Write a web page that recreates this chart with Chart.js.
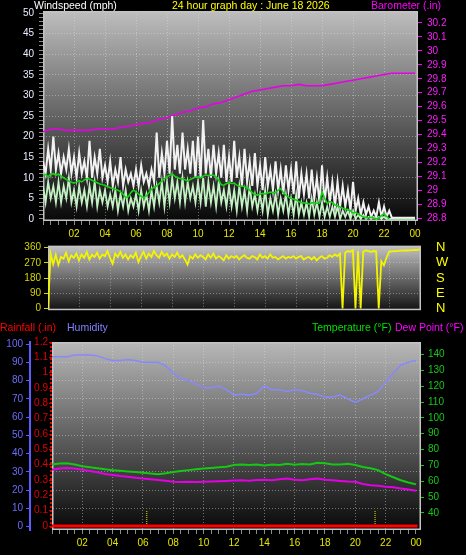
<!DOCTYPE html>
<html>
<head>
<meta charset="utf-8">
<script src="https://cdn.jsdelivr.net/npm/chart.js@4.4.1/dist/chart.umd.min.js"></script>
<style>
  html, body { margin: 0; padding: 0; background: #000; }
  #wrap { position: relative; width: 466px; height: 555px; overflow: hidden; background: #000;
          font-family: 'Liberation Sans', Arial, sans-serif; }
  canvas { position: absolute; left: 0; }
  .lbl { position: absolute; font-size: 10.5px; line-height: 12px; white-space: nowrap; }
</style>
</head>
<body>
<div id="wrap">
  <canvas id="windChart" width="466" height="244" style="top:0px"></canvas>
  <canvas id="dirChart" width="466" height="84" style="top:236px"></canvas>
  <canvas id="climateChart" width="466" height="223" style="top:332px"></canvas>

  <div class="lbl" style="left:34px;top:-1px;color:#ffffff">Windspeed (mph)</div>
  <div class="lbl" style="left:172px;top:-1px;color:#ffff00">24 hour graph day : June 18 2026</div>
  <div class="lbl" style="left:371px;top:-1px;color:#ff00ff">Barometer (.in)</div>

  <div class="lbl" style="left:0px;top:321px;color:#ff0000">Rainfall (.in)</div>
  <div class="lbl" style="left:67px;top:321px;color:#8080ff">Humidity</div>
  <div class="lbl" style="left:312px;top:321px;color:#00e000">Temperature (°F)</div>
  <div class="lbl" style="left:395px;top:321px;color:#ff00ff">Dew Point (°F)</div>
</div>
<script>
'use strict';

// ---- data ----
// 10 minute samples, 00:00 .. 24:00 (one row per hour)
const gustMph = [
  14, 11, 17, 12, 20, 12,
  16, 11, 15, 12, 17, 11,
  15, 10, 16, 11, 14, 10,
  19, 10, 15, 11, 17, 10,
  13, 9, 14, 8, 12, 9,
  15, 8, 12, 9, 11, 8,
  12, 8, 13, 9, 11, 8,
  12, 9, 21, 10, 16, 11,
  19, 11, 25, 12, 18, 11,
  21, 12, 17, 11, 19, 10,
  20, 10, 24, 11, 17, 10,
  18, 11, 16, 10, 18, 9,
  15, 9, 19, 10, 15, 8,
  17, 9, 14, 8, 16, 8,
  13, 7, 15, 8, 12, 7,
  14, 7, 12, 6, 13, 7,
  12, 6, 14, 5, 11, 6,
  11, 5, 12, 5, 10, 4,
  13, 4, 10, 4, 9, 3,
  9, 3, 8, 3, 7, 2,
  9, 2, 5, 1, 4, 1,
  3, 0.5, 2, 0.5, 4, 0.5,
  3, 0.5, 2, 0.3, 0.3, 0.3,
  0.3, 0.3, 0.3, 0.3, 0.3, 0.3,
  0.3
];
const windMph = [
  8, 4, 9, 5, 8, 4,
  9, 4, 8, 5, 10, 4,
  7, 3, 8, 4, 7, 3,
  8, 4, 9, 3, 7, 4,
  7, 3, 6, 3, 7, 2,
  6, 3, 7, 2, 5, 3,
  6, 2, 7, 3, 6, 2,
  7, 3, 8, 4, 9, 3,
  9, 4, 10, 5, 9, 4,
  10, 4, 9, 5, 8, 4,
  9, 4, 10, 3, 9, 4,
  8, 3, 9, 4, 7, 3,
  8, 3, 7, 2, 8, 3,
  7, 2, 8, 3, 6, 2,
  6, 2, 7, 1, 5, 2,
  6, 1, 5, 2, 6, 1,
  5, 1, 6, 1, 4, 1,
  4, 0.5, 5, 1, 4, 0.5,
  4, 0.5, 3, 0.5, 3, 0.5,
  3, 0, 2, 0.5, 2, 0,
  2, 0, 1, 0, 1, 0,
  0.5, 0, 0.5, 0, 0.5, 0,
  0.5, 0, 0, 0, 0, 0,
  0, 0, 0, 0, 0, 0,
  0
];
const avgMph = [
  10.5, 10.8, 10.2, 10.9, 11.0, 10.6,
  10.9, 10.4, 10.0, 9.6, 9.2, 8.9,
  8.7, 9.0, 9.3, 9.0, 9.5, 9.8,
  9.7, 9.4, 9.1, 8.8, 8.5, 8.3,
  8.2, 7.9, 7.6, 7.4, 7.2, 7.0,
  6.6, 6.0, 5.2, 5.4, 6.4, 7.0,
  6.6, 6.0, 5.5, 5.2, 5.6, 6.4,
  7.2, 7.8, 8.0, 8.6, 9.2, 9.8,
  10.2, 10.6, 10.9, 10.4, 10.0, 9.8,
  9.7, 9.5, 9.2, 9.6, 9.9, 10.2,
  10.2, 10.0, 10.4, 10.7, 10.5, 10.6,
  10.6, 10.2, 9.4, 8.3, 8.2, 8.6,
  8.8, 8.6, 8.7, 8.2, 7.9, 8.0,
  7.8, 7.6, 7.0, 6.4, 5.9, 5.8,
  6.0, 6.2, 6.1, 6.3, 6.5, 6.4,
  6.4, 7.0, 7.3, 6.4, 5.8, 5.3,
  5.0, 4.8, 4.6, 4.2, 4.0, 3.9,
  3.8, 3.6, 3.9, 4.0, 3.8, 3.8,
  6.6, 5.0, 3.8, 4.2, 4.0, 3.4,
  3.2, 2.9, 2.6, 2.4, 2.2, 2.0,
  1.4, 1.6, 1.2, 0.8, 0.5, 0.3,
  0.3, 0.4, 0.2, 0.0, 0.3, 0.8,
  1.3, 0.6, 0.0, null, null, null,
  null, null, null, null, null, null,
  null
];
const dirDeg = [
  0, 325, 262, 318, 258, 305,
  295, 330, 280, 315, 300, 325,
  285, 320, 300, 335, 290, 318,
  305, 330, 295, 320, 310, 340,
  300, 265, 325, 305, 335, 300,
  320, 290, 315, 300, 330, 275,
  310, 335, 295, 325, 305, 340,
  315, 300, 335, 310, 325, 295,
  320, 305, 330, 300, 315, 290,
  260, 310, 295, 320, 300, 315,
  305, 290, 320, 300, 325, 295,
  310, 300, 285, 315, 295, 310,
  300, 310, 290, 305, 315, 300,
  295, 310, 305, 290, 320, 300,
  310, 295, 320, 300, 305, 290,
  300, 310, 295, 305, 300, 310,
  295, 305, 310, 290, 300, 305,
  290, 305, 285, 300, 310, 295,
  300, 315, 305, 320, 310, 325,
  0, 330, 340, 335, 345, 0,
  340, 0, 335, 345, 340, 335,
  340, 338, 0, 280, 255, 300,
  335, 338, 340, 340, 342, 342,
  343, 343, 344, 345, 346, 347,
  350
];

// half hourly samples, 00:00 .. 24:00
const baroIn = [
  29.42, 29.44, 29.44, 29.43, 29.43, 29.43, 29.43, 29.44, 29.44, 29.44,
  29.45, 29.46, 29.47, 29.48, 29.49, 29.51, 29.52, 29.54, 29.56, 29.57,
  29.59, 29.60, 29.62, 29.63, 29.65, 29.67, 29.69, 29.71, 29.72, 29.73,
  29.74, 29.75, 29.75, 29.76, 29.75, 29.75, 29.75, 29.76, 29.77, 29.78,
  29.79, 29.80, 29.81, 29.82, 29.83, 29.84, 29.84, 29.84, 29.84
];
const humidityPct = [
  93, 93, 93, 94, 94, 94, 93.5, 92, 91, 91,
  91.5, 91, 90, 90, 90, 88, 84, 81, 80, 78,
  76, 76, 77, 75, 72, 72.5, 72, 73, 77, 75,
  75, 74, 75, 74.5, 73, 72.5, 71, 71, 72, 70,
  68, 70, 72, 74, 79, 84, 88.5, 90, 91
];
const tempF = [
  70.6, 71.2, 71.4, 70.5, 69.4, 68.8, 68.2, 67.5, 67.0, 66.6,
  66.2, 65.8, 65.3, 64.8, 64.4, 65.0, 65.8, 66.4, 67.0, 67.6,
  68.0, 68.4, 68.8, 69.2, 70.2, 70.6, 70.3, 70.5, 70.0, 70.6,
  70.2, 71.0, 70.4, 70.8, 70.6, 71.7, 71.4, 70.5, 70.6, 71.0,
  70.2, 69.0, 68.2, 67.0, 64.5, 62.5, 60.6, 59.2, 58.0
];
const dewF = [
  67.3, 68.0, 68.3, 68.0, 67.3, 66.5, 65.6, 64.6, 64.0, 63.3,
  62.8, 62.2, 61.7, 61.3, 60.8, 60.3, 59.6, 59.5, 59.6, 59.5,
  59.6, 59.8, 60.0, 60.2, 60.4, 60.6, 60.3, 60.8, 61.0, 60.6,
  61.3, 61.7, 60.9, 60.6, 61.2, 61.7, 61.0, 60.6, 60.2, 59.8,
  59.6, 58.3, 57.5, 57.2, 56.5, 56.2, 55.4, 54.7, 54.0
];
const rainTimes = [0, 24.1];
const rainIn = [0, 0];
// sunrise / sunset markers (hours)
const sunMarks = [6.25, 21.3];

// ---- tick labels ----
const hourTickValues = [2, 4, 6, 8, 10, 12, 14, 16, 18, 20, 22, 24];
const hourLabels = ['02', '04', '06', '08', '10', '12', '14', '16', '18', '20', '22', '00'];
const windTicks = [0, 5, 10, 15, 20, 25, 30, 35, 40, 45, 50];
const baroTicks = [28.8, 28.9, 29, 29.1, 29.2, 29.3, 29.4, 29.5, 29.6, 29.7, 29.8, 29.9, 30, 30.1, 30.2];
const dirTicks = [0, 90, 180, 270, 360];
const compassLabels = ['N', 'E', 'S', 'W', 'N'];
const rainTicks = [0, 0.1, 0.2, 0.3, 0.4, 0.5, 0.6, 0.7, 0.8, 0.9, 1, 1.1, 1.2];
const humidityTicks = [0, 10, 20, 30, 40, 50, 60, 70, 80, 90, 100];
const tempTicks = [40, 50, 60, 70, 80, 90, 100, 110, 120, 130, 140];

const FONT = "'Liberation Sans', Arial, sans-serif";
const gridColor = 'rgba(225,225,225,0.45)';

Chart.defaults.font.family = FONT;
Chart.defaults.font.size = 10;
Chart.defaults.animation = false;
Chart.defaults.responsive = false;
Chart.defaults.events = [];
Chart.defaults.plugins.legend.display = false;
Chart.defaults.plugins.tooltip.enabled = false;
Chart.defaults.elements.point.radius = 0;
Chart.defaults.elements.line.tension = 0;

// turn a list of regular samples into x/y points (x in hours)
function series(values, step) {
  return values.map((v, i) => ({ x: i * step, y: v }));
}

// gradient panel + frame behind the lines
const panelBg = {
  id: 'panelBg',
  beforeDraw(chart, args, opts) {
    const { ctx, chartArea: a } = chart;
    const g = ctx.createLinearGradient(0, a.top, 0, a.bottom);
    g.addColorStop(0, opts.top);
    g.addColorStop(1, opts.bottom);
    ctx.save();
    ctx.fillStyle = g;
    ctx.fillRect(a.left, a.top, a.width, a.height);
    ctx.restore();
  },
  beforeDatasetsDraw(chart, args, opts) {
    const { ctx, chartArea: a } = chart;
    ctx.save();
    ctx.strokeStyle = '#c4c4c4';
    ctx.lineWidth = 1.5;
    ctx.strokeRect(a.left + 0.75, a.top + 0.75, a.width - 1.5, a.height - 1.5);
    if (opts.leftDash) {
      ctx.strokeStyle = opts.leftDash;
      ctx.lineWidth = 2;
      ctx.setLineDash([2, 2]);
      ctx.beginPath();
      ctx.moveTo(a.left - 1, a.top);
      ctx.lineTo(a.left - 1, a.bottom);
      ctx.stroke();
    }
    ctx.restore();
  }
};

// time axis shared by the three panels
function hourAxis(max, height, showLabels) {
  return {
    type: 'linear', min: 0, max: max,
    afterBuildTicks: s => {
      const t = [];
      for (let h = 0; h <= 24; h += 0.5) t.push({ value: h });
      s.ticks = t;
    },
    afterFit: s => { s.height = height; },
    border: { display: false, dash: [1, 2] },
    grid: {
      color: c => (c.tick && c.tick.value > 0 && c.tick.value < 24 && c.tick.value % 2 === 0) ? gridColor : 'transparent',
      drawTicks: showLabels,
      tickLength: 4,
      tickColor: '#8c8c8c'
    },
    ticks: {
      display: showLabels, autoSkip: false, maxRotation: 0, padding: 3,
      color: '#e6e600',
      callback: v => { const i = hourTickValues.indexOf(v); return i < 0 ? '' : hourLabels[i]; }
    }
  };
}

// ---- wind + barometer ----
new Chart(document.getElementById('windChart'), {
  type: 'line',
  data: {
    datasets: [
      { label: 'Average', data: series(avgMph, 1 / 6), yAxisID: 'wind', borderColor: '#12d212', borderWidth: 1.6, order: 0 },
      { label: 'Wind', data: series(windMph, 1 / 6), yAxisID: 'wind', borderColor: '#c4f2c4', borderWidth: 1.8, order: 1 },
      { label: 'Gust', data: series(gustMph, 1 / 6), yAxisID: 'wind', borderColor: '#f2f2f2', borderWidth: 2, order: 2 },
      { label: 'Barometer', data: series(baroIn, 0.5), yAxisID: 'baro', borderColor: '#e800e8', borderWidth: 1.6, order: 3 }
    ]
  },
  options: {
    layout: { padding: { top: 10 } },
    plugins: { panelBg: { top: '#bebebe', bottom: '#080808' } },
    scales: {
      x: hourAxis(24.19, 23, true),
      wind: {
        type: 'linear', position: 'left', min: -0.5, max: 50.5,
        afterBuildTicks: s => {
          const t = [];
          for (let v = 0; v <= 50; v++) t.push({ value: v });
          s.ticks = t;
        },
        afterFit: s => { s.width = 43; },
        border: { display: false, dash: [1, 2] },
        grid: {
          color: c => (c.tick && c.tick.value % 5 === 0 && c.tick.value > 0 && c.tick.value < 50) ? gridColor : 'transparent',
          tickLength: 4, tickColor: '#8c8c8c'
        },
        ticks: {
          autoSkip: false, padding: 5, color: '#e8eeff',
          callback: v => windTicks.includes(v) ? String(v) : ''
        }
      },
      baro: {
        type: 'linear', position: 'right', min: 28.78, max: 30.286,
        afterBuildTicks: s => { s.ticks = baroTicks.map(v => ({ value: v })); },
        afterFit: s => { s.width = 48; },
        border: { display: false },
        grid: { drawOnChartArea: false, tickLength: 4, tickColor: '#ff00ff' },
        ticks: { autoSkip: false, padding: 5, color: '#ff1cff', callback: v => String(v) }
      }
    }
  },
  plugins: [panelBg]
});

// ---- wind direction ----
new Chart(document.getElementById('dirChart'), {
  type: 'line',
  data: {
    datasets: [
      { label: 'Direction', data: series(dirDeg, 1 / 6), yAxisID: 'dir', borderColor: '#f4f400', borderWidth: 1.8 }
    ]
  },
  options: {
    layout: { padding: { top: 8 } },
    plugins: { panelBg: { top: '#c2c2c2', bottom: '#121212' } },
    scales: {
      x: hourAxis(24.06, 8, false),
      dir: {
        type: 'linear', position: 'left', min: -11, max: 371,
        afterBuildTicks: s => { s.ticks = dirTicks.map(v => ({ value: v })); },
        afterFit: s => { s.width = 48; },
        border: { display: false, dash: [1, 2] },
        grid: {
          color: c => (c.tick && c.tick.value > 0 && c.tick.value < 360) ? gridColor : 'transparent',
          tickLength: 4, tickColor: '#d4d400'
        },
        ticks: { autoSkip: false, padding: 3, color: '#d4d400', callback: v => String(v) }
      },
      compass: {
        type: 'linear', position: 'right', min: -11, max: 371,
        afterBuildTicks: s => { s.ticks = dirTicks.map(v => ({ value: v })); },
        afterFit: s => { s.width = 45; },
        border: { display: false },
        grid: { drawOnChartArea: false, drawTicks: true, tickLength: 13, tickColor: 'transparent' },
        ticks: {
          autoSkip: false, padding: 2, color: '#ffff00', font: { size: 13 },
          callback: (v, i) => compassLabels[i]
        }
      }
    }
  },
  plugins: [panelBg]
});

// ---- rain, humidity, temperature, dew point ----
const climateSets = [
  { label: 'Rain', data: rainTimes.map((t, i) => ({ x: t, y: rainIn[i] })), yAxisID: 'rain', borderColor: '#ff0000', borderWidth: 3, order: 0 },
  { label: 'Temperature', data: series(tempF, 0.5), yAxisID: 'temp', borderColor: '#14c814', borderWidth: 2, order: 2 },
  { label: 'Dew Point', data: series(dewF, 0.5), yAxisID: 'temp', borderColor: '#e400e4', borderWidth: 2, order: 3 },
  { label: 'Humidity', data: series(humidityPct, 0.5), yAxisID: 'hum', borderColor: '#8888ff', borderWidth: 1.5, order: 4 }
];
sunMarks.forEach(h => {
  climateSets.push({
    label: 'Sun', data: [{ x: h, y: 0 }, { x: h, y: 0.1 }], yAxisID: 'rain',
    borderColor: '#e8e800', borderWidth: 1, borderDash: [1, 1], order: 1
  });
});

new Chart(document.getElementById('climateChart'), {
  type: 'line',
  data: { datasets: climateSets },
  options: {
    layout: { padding: { top: 8 } },
    plugins: { panelBg: { top: '#b8b8b8', bottom: '#080808', leftDash: '#e00000' } },
    scales: {
      x: hourAxis(24.33, 25, true),
      rain: {
        type: 'linear', position: 'left', weight: 0, min: -0.026, max: 1.2,
        afterBuildTicks: s => { s.ticks = rainTicks.map(v => ({ value: v })); },
        afterFit: s => { s.width = 22; },
        border: { display: false },
        grid: { drawOnChartArea: false, tickLength: 3, tickColor: '#e00000' },
        ticks: { autoSkip: false, padding: 1, color: '#e00000', callback: v => String(v) }
      },
      hum: {
        type: 'linear', position: 'left', weight: 1, min: -1.9, max: 101.1,
        afterBuildTicks: s => { s.ticks = humidityTicks.map(v => ({ value: v })); },
        afterFit: s => { s.width = 30; },
        border: { display: true, color: '#5c5cff', width: 2, dash: [1, 2] },
        grid: {
          color: c => (c.tick && c.tick.value > 0 && c.tick.value < 100) ? gridColor : 'transparent',
          tickLength: 4, tickColor: '#5c5cff'
        },
        ticks: { autoSkip: false, padding: 3, color: '#6c6cff', callback: v => String(v) }
      },
      temp: {
        type: 'linear', position: 'right', min: 29.2, max: 147.9,
        afterBuildTicks: s => { s.ticks = tempTicks.map(v => ({ value: v })); },
        afterFit: s => { s.width = 45; },
        border: { display: false },
        grid: { drawOnChartArea: false, tickLength: 3, tickColor: '#14c814' },
        ticks: { autoSkip: false, padding: 4, color: '#18c818', callback: v => String(v) }
      }
    }
  },
  plugins: [panelBg]
});
</script>
</body>
</html>
